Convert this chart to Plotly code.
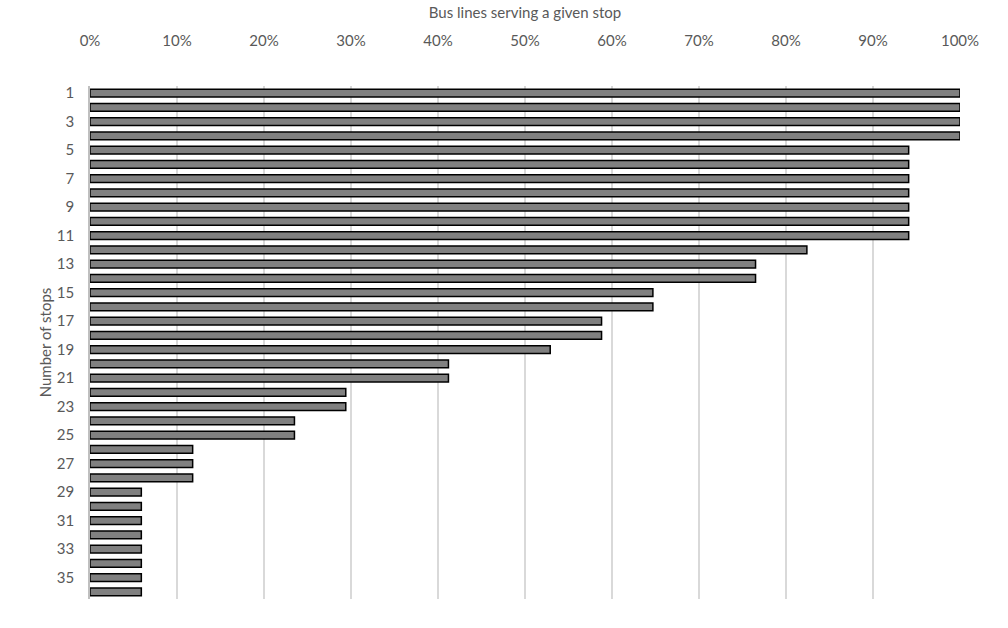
import plotly.graph_objects as go

stops = list(range(1, 37))
share = [100, 100, 100, 100,
         94.1, 94.1, 94.1, 94.1, 94.1, 94.1, 94.1,
         82.4, 76.5, 76.5, 64.7, 64.7, 58.8, 58.8, 52.9,
         41.2, 41.2, 29.4, 29.4, 23.5, 23.5,
         11.8, 11.8, 11.8,
         5.9, 5.9, 5.9, 5.9, 5.9, 5.9, 5.9, 5.9]
x_ticks = [0, 10, 20, 30, 40, 50, 60, 70, 80, 90, 100]
x_ticklabels = [f"{v}%" for v in x_ticks]
y_ticks = list(range(1, 37, 2))

font_fam = "Lato, Open Sans, sans-serif"
gray = "#595959"

fig = go.Figure(go.Bar(
    x=share, y=stops, orientation="h",
    marker=dict(color="#808080", line=dict(color="#000000", width=1.5)),
    width=0.55,
))

fig.update_layout(
    width=1008, height=628,
    margin=dict(l=90, r=48, t=84, b=29),
    paper_bgcolor="white", plot_bgcolor="white",
    showlegend=False,
    font=dict(family=font_fam, color=gray, size=15),
    xaxis=dict(
        side="top", range=[0, 100], tickvals=x_ticks, ticktext=x_ticklabels,
        showgrid=True, gridcolor="#d9d9d9", gridwidth=1.5,
        zeroline=False, showline=False, ticks="", ticklabelstandoff=36,
        tickfont=dict(size=15, color=gray),
        title=dict(text="Bus lines serving a given stop", standoff=8,
                   font=dict(size=15, color=gray)),
    ),
    yaxis=dict(
        range=[36.5, 0.5], tickvals=y_ticks,
        showgrid=False, zeroline=False,
        showline=True, linecolor="#bfbfbf", linewidth=1.5,
        ticks="", ticklabelstandoff=11,
        tickfont=dict(size=15, color=gray),
        title=dict(text="Number of stops", standoff=2,
                   font=dict(size=15, color=gray)),
    ),
)

fig.write_html("out.html")
